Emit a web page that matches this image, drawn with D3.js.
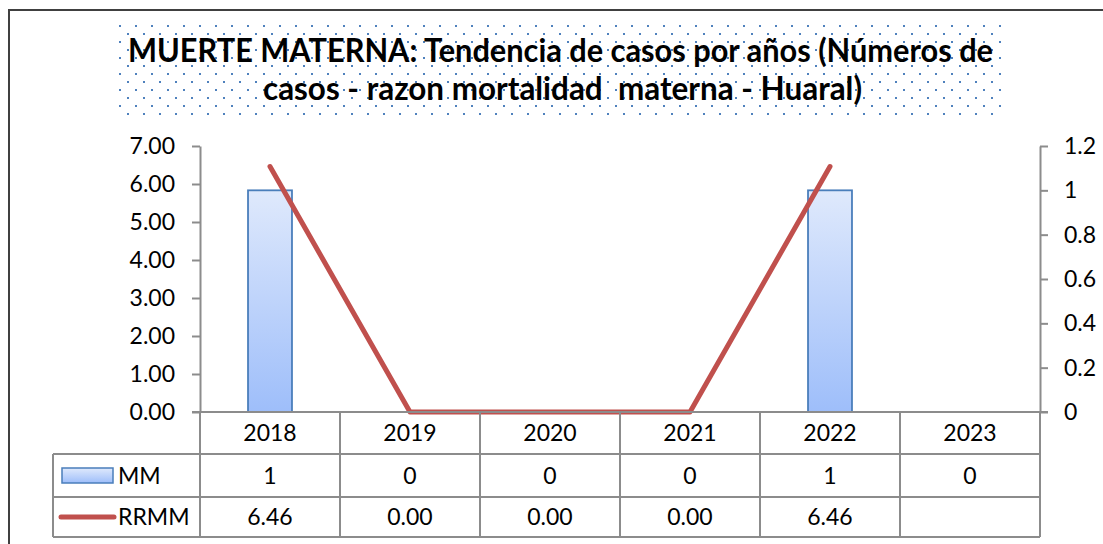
<!DOCTYPE html>
<html>
<head>
<meta charset="utf-8">
<script src="https://cdn.jsdelivr.net/npm/d3@7"></script>
<style>
  html, body { margin: 0; padding: 0; background: #fff; }
  svg { display: block; }
  text { font-family: Lato, "Open Sans", "Liberation Sans", sans-serif; fill: #000; }
</style>
</head>
<body>
<svg id="chart" width="1103" height="544"></svg>
<script>
// ---- data ----
const years = ["2018", "2019", "2020", "2021", "2022", "2023"];
const mmValues = [1, 0, 0, 0, 1, 0];            // MM (bars, right axis)
const rrmmValues = [6.46, 0, 0, 0, 6.46, null]; // RRMM (line, left axis)
const leftTicks = [0, 1, 2, 3, 4, 5, 6, 7];
const rightTicks = [0, 0.2, 0.4, 0.6, 0.8, 1, 1.2];
const seriesNames = ["MM", "RRMM"];
const titleLines = [
  "MUERTE MATERNA: Tendencia de casos por años (Números de",
  "casos - razon mortalidad  materna - Huaral)"
];

// ---- layout ----
const svg = d3.select("#chart");
const plotL = 200, plotR = 1040, plotT = 146, plotB = 412;
const rowTops = [412, 454, 497, 537];
const legendL = 53;
const gridColor = "#8c8c8c";
const barBlue = "#4a7ebb";
const lineRed = "#c0504d";
const fs = 23;

const x = d3.scaleBand().domain(years).range([plotL, plotR]);
const xBar = d3.scaleBand().domain(years).range([plotL, plotR])
  .paddingInner(0.686).paddingOuter(0.343);
const yL = d3.scaleLinear().domain([0, 7]).range([plotB, plotT]);
const yR = d3.scaleLinear().domain([0, 1.2]).range([plotB, plotT]);

// defs
const defs = svg.append("defs");
const grad = defs.append("linearGradient").attr("id", "barGrad")
  .attr("x1", 0).attr("y1", 0).attr("x2", 0).attr("y2", 1);
grad.append("stop").attr("offset", "0%").attr("stop-color", "#dfe9fc");
grad.append("stop").attr("offset", "100%").attr("stop-color", "#9ebefa");
const pat = defs.append("pattern").attr("id", "dots")
  .attr("patternUnits", "userSpaceOnUse")
  .attr("x", 119).attr("y", 25).attr("width", 16).attr("height", 16);
pat.append("rect").attr("x", 0).attr("y", 0).attr("width", 2).attr("height", 2).attr("fill", "#4f81bd");
pat.append("rect").attr("x", 8).attr("y", 8).attr("width", 2).attr("height", 2).attr("fill", "#4f81bd");

// outer frame
svg.append("rect").attr("x", 9).attr("y", 10).attr("width", 1100).attr("height", 540)
  .attr("fill", "#fff").attr("stroke", "#404040").attr("stroke-width", 2);

// title
svg.append("rect").attr("x", 118).attr("y", 24).attr("width", 884).attr("height", 91)
  .attr("fill", "url(#dots)");
const titleSpecs = [
  { y: 62, x0: 128, x1: 993 },
  { y: 100, x0: 263, x1: 862 }
];
titleLines.forEach((t, i) => {
  const s = titleSpecs[i];
  svg.append("text")
    .attr("x", (s.x0 + s.x1) / 2).attr("y", s.y)
    .attr("text-anchor", "middle")
    .style("white-space", "pre")
    .attr("font-size", 32).attr("font-weight", "bold")
    .attr("textLength", s.x1 - s.x0).attr("lengthAdjust", "spacingAndGlyphs")
    .text(t);
});

// bars (MM, right axis)
svg.append("g").selectAll("rect").data(years).join("rect")
  .attr("x", d => xBar(d))
  .attr("width", xBar.bandwidth())
  .attr("y", (d, i) => yR(mmValues[i]))
  .attr("height", (d, i) => yR(0) - yR(mmValues[i]))
  .attr("fill", "url(#barGrad)")
  .attr("stroke", barBlue).attr("stroke-width", 1.8)
  .style("display", (d, i) => mmValues[i] > 0 ? null : "none");

// line (RRMM, left axis)
const lineData = years.map((d, i) => ({ year: d, v: rrmmValues[i] })).filter(d => d.v != null);
svg.append("path").datum(lineData)
  .attr("fill", "none").attr("stroke", lineRed).attr("stroke-width", 5)
  .attr("stroke-linecap", "round").attr("stroke-linejoin", "round")
  .attr("d", d3.line().x(d => x(d.year) + x.bandwidth() / 2).y(d => yL(d.v)));

// axes
const axL = svg.append("g").attr("transform", `translate(${plotL},0)`)
  .call(d3.axisLeft(yL).tickValues(leftTicks).tickFormat(d3.format(".2f"))
    .tickSize(8).tickSizeOuter(0).tickPadding(17));
const axR = svg.append("g").attr("transform", `translate(${plotR},0)`)
  .call(d3.axisRight(yR).tickValues(rightTicks).tickFormat(d => d3.format("~g")(d))
    .tickSize(8).tickSizeOuter(0).tickPadding(16));
[axL, axR].forEach(a => {
  a.selectAll("path, line").attr("stroke", gridColor).attr("stroke-width", 2);
  a.selectAll("text").attr("font-size", fs).attr("font-family", "Lato, 'Open Sans', sans-serif").attr("fill", "#000");
});

// data table
const tbl = svg.append("g");
tbl.append("line").attr("x1", 192).attr("x2", 1048).attr("y1", rowTops[0]).attr("y2", rowTops[0])
  .attr("stroke", gridColor).attr("stroke-width", 2);
[rowTops[1], rowTops[2], rowTops[3]].forEach(yy => {
  tbl.append("line").attr("x1", legendL).attr("x2", plotR).attr("y1", yy).attr("y2", yy)
    .attr("stroke", gridColor).attr("stroke-width", 2);
});
const vx = years.map(d => x(d)).concat([plotR]);
tbl.selectAll("line.v").data(vx).join("line").attr("class", "v")
  .attr("x1", d => d).attr("x2", d => d).attr("y1", rowTops[0]).attr("y2", rowTops[3])
  .attr("stroke", gridColor).attr("stroke-width", 2);
tbl.append("line").attr("x1", legendL).attr("x2", legendL).attr("y1", rowTops[1]).attr("y2", rowTops[3])
  .attr("stroke", gridColor).attr("stroke-width", 2);

const rowMid = i => (rowTops[i] + rowTops[i + 1]) / 2;
tbl.selectAll("text.yr").data(years).join("text").attr("class", "yr")
  .attr("x", d => x(d) + x.bandwidth() / 2).attr("y", rowMid(0)).attr("dy", "0.35em")
  .attr("text-anchor", "middle").attr("font-size", fs).text(d => d);
tbl.selectAll("text.mm").data(years).join("text").attr("class", "mm")
  .attr("x", d => x(d) + x.bandwidth() / 2).attr("y", rowMid(1)).attr("dy", "0.35em")
  .attr("text-anchor", "middle").attr("font-size", fs).text((d, i) => mmValues[i]);
tbl.selectAll("text.rr").data(years).join("text").attr("class", "rr")
  .attr("x", d => x(d) + x.bandwidth() / 2).attr("y", rowMid(2)).attr("dy", "0.35em")
  .attr("text-anchor", "middle").attr("font-size", fs)
  .text((d, i) => rrmmValues[i] == null ? "" : d3.format(".2f")(rrmmValues[i]));

// legend keys
tbl.append("rect").attr("x", 62).attr("y", rowMid(1) - 7.5).attr("width", 51).attr("height", 15)
  .attr("fill", "url(#barGrad)").attr("stroke", barBlue).attr("stroke-width", 1.5);
tbl.append("line").attr("x1", 61).attr("x2", 114).attr("y1", rowMid(2)).attr("y2", rowMid(2))
  .attr("stroke", lineRed).attr("stroke-width", 5).attr("stroke-linecap", "round");
seriesNames.forEach((n, i) => {
  tbl.append("text").attr("x", 118).attr("y", rowMid(i + 1)).attr("dy", "0.35em")
    .attr("font-size", fs).text(n);
});
</script>
</body>
</html>
